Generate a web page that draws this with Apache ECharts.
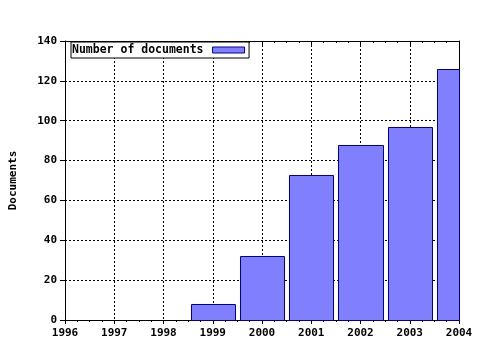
<!DOCTYPE html>
<html><head><meta charset="utf-8">
<script src="https://cdn.jsdelivr.net/npm/echarts@6/dist/echarts.min.js"></script>
<style>html,body{margin:0;padding:0;background:#fff}#c{width:480px;height:350px}</style>
</head><body><div id="c"></div>
<script>
const years = [1999, 2000, 2001, 2002, 2003, 2004];
const documents = [8, 32, 73, 88, 97, 126];
const seriesName = 'Number of documents';
const yTitle = 'Documents';

const font = { fontFamily: 'DejaVu Sans Mono', fontWeight: 'bold', fontSize: 11, color: '#000' };
const dotted = { color: '#000', width: 1, type: [2, 2] };
const barFill = '#8080ff', barStroke = '#000099';
const chart = echarts.init(document.getElementById('c'), null, { renderer: 'canvas' });

function renderBar(params, api) {
  const x = api.value(0), y = api.value(1);
  const top = api.coord([x, y]);
  const base = api.coord([x, 0]);
  const w = api.size([1, 0])[0] * 0.9;
  const l = Math.round(top[0] - w / 2) + 0.5, r = Math.round(top[0] + w / 2) + 0.5;
  const t = Math.round(top[1]) + 0.5, b = Math.round(base[1]) + 0.5;
  const cs = params.coordSys;
  const rect = echarts.graphic.clipRectByRect(
    { x: l, y: t, width: r - l, height: b - t },
    { x: cs.x, y: cs.y, width: cs.width + 0.5, height: cs.height + 1 });
  if (!rect) return null;
  return { type: 'rect', shape: rect, style: { fill: barFill, stroke: barStroke, lineWidth: 1 } };
}

chart.setOption({
  animation: false,
  backgroundColor: '#fff',
  grid: { left: 65, right: 21, top: 41, bottom: 30, show: false },
  legend: {
    left: 71, top: 42, orient: 'horizontal', align: 'right',
    padding: [2, 4, 2, 1], borderColor: '#000', borderWidth: 1, backgroundColor: '#fff',
    itemWidth: 32, itemHeight: 6, itemGap: 0, icon: 'rect',
    textStyle: Object.assign({}, font, { fontSize: 11.5, padding: [0, 4, 0, 0] }),
    data: [{ name: seriesName, itemStyle: { color: barFill, borderColor: barStroke, borderWidth: 1 } }]
  },
  xAxis: [{
    type: 'value', min: 1996, max: 2004, interval: 1, position: 'bottom',
    axisLine: { show: true, onZero: false, lineStyle: { color: '#000', width: 1 } },
    axisTick: { show: true, length: 4, lineStyle: { color: '#000' } },
    minorTick: { show: true, splitNumber: 4, length: 2, lineStyle: { color: '#000' } },
    axisLabel: Object.assign({}, font, { margin: 8, formatter: v => String(v) }),
    splitLine: { show: true, lineStyle: dotted }
  }, {
    type: 'value', min: 1996, max: 2004, interval: 1, position: 'top',
    axisLine: { show: true, onZero: false, lineStyle: { color: '#000', width: 1 } },
    axisTick: { show: true, inside: true, length: 4, lineStyle: { color: '#000' } },
    minorTick: { show: true, splitNumber: 4, length: 2, lineStyle: { color: '#000' } },
    axisLabel: { show: false }, splitLine: { show: false }
  }],
  yAxis: [{
    type: 'value', min: 0, max: 140, interval: 20, position: 'left',
    name: yTitle, nameLocation: 'middle', nameGap: 46, nameRotate: 90,
    nameTextStyle: font,
    axisLine: { show: true, onZero: false, lineStyle: { color: '#000', width: 1 } },
    axisTick: { show: true, length: 5, lineStyle: { color: '#000' } },
    axisLabel: Object.assign({}, font, { margin: 8 }),
    splitLine: { show: true, lineStyle: dotted }
  }, {
    type: 'value', min: 0, max: 140, interval: 20, position: 'right',
    axisLine: { show: true, onZero: false, lineStyle: { color: '#000', width: 1 } },
    axisTick: { show: false }, axisLabel: { show: false }, splitLine: { show: false }
  }],
  series: [{
    name: seriesName, type: 'custom', xAxisIndex: 0, yAxisIndex: 0,
    renderItem: renderBar, z: 1,
    itemStyle: { color: barFill, borderColor: barStroke, borderWidth: 1 },
    encode: { x: 0, y: 1 },
    data: years.map((y, i) => [y, documents[i]])
  }]
});
</script></body></html>
